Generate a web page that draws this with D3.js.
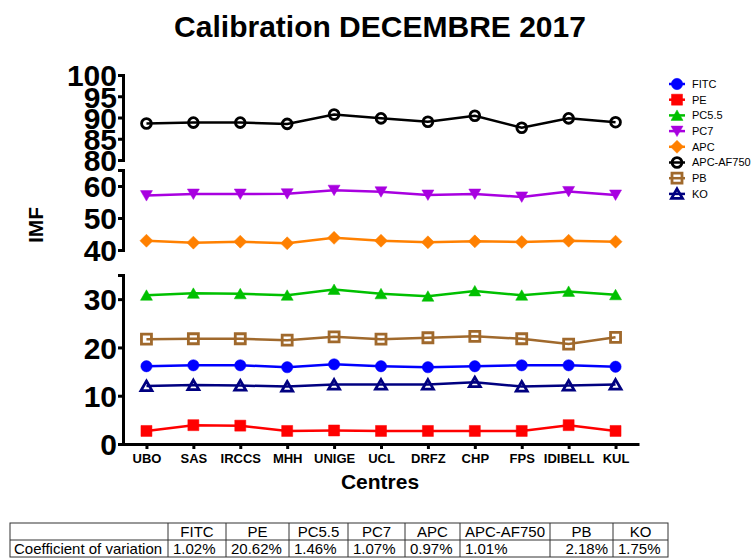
<!DOCTYPE html>
<html>
<head>
<meta charset="utf-8">
<script src="https://cdn.jsdelivr.net/npm/d3@7"></script>
<style>
  html, body { margin: 0; padding: 0; background: #fff; }
  svg { display: block; font-family: "Liberation Sans", Arial, sans-serif; }
</style>
</head>
<body>
<svg id="chart" width="755" height="558"></svg>
<script>
// Centres on the x axis
const centres = ["UBO", "SAS", "IRCCS", "MHH", "UNIGE", "UCL", "DRFZ", "CHP", "FPS", "IDIBELL", "KUL"];

// IMF per fluorochrome, one value per centre
const fitc     = [16.1, 16.3, 16.3, 15.9, 16.5, 16.1, 15.9, 16.1, 16.3, 16.3, 16.0];
const pe       = [2.7, 3.9, 3.8, 2.7, 2.8, 2.7, 2.7, 2.7, 2.7, 3.9, 2.7];
const pc55     = [30.8, 31.2, 31.1, 30.8, 32.0, 31.1, 30.6, 31.7, 30.8, 31.6, 30.9];
const pc7      = [57.0, 57.5, 57.5, 57.6, 58.7, 58.2, 57.2, 57.5, 56.6, 58.3, 57.2];
const apc      = [42.9, 42.3, 42.6, 42.1, 43.8, 42.9, 42.4, 42.7, 42.5, 42.9, 42.6];
const apcAf750 = [88.6, 88.8, 88.8, 88.5, 90.7, 89.8, 89.0, 90.4, 87.6, 89.8, 88.9];
const pb       = [21.7, 21.8, 21.8, 21.5, 22.2, 21.7, 22.0, 22.3, 21.8, 20.7, 22.1];
const ko       = [12.0, 12.2, 12.1, 11.9, 12.3, 12.3, 12.3, 12.8, 11.9, 12.1, 12.3];

// Broken y axis: three segments and their tick labels
const segLowDomain  = [0, 35];   const segLowTicks  = [0, 10, 20, 30];
const segMidDomain  = [40, 65];  const segMidTicks  = [40, 50, 60];
const segHighDomain = [80, 100]; const segHighTicks = [80, 85, 90, 95, 100];

// Coefficient of variation table
const cvHeaders = ["FITC", "PE", "PC5.5", "PC7", "APC", "APC-AF750", "PB", "KO"];
const cvValues  = ["1.02%", "20.62%", "1.46%", "1.07%", "0.97%", "1.01%", "2.18%", "1.75%"];
const cvRowLabel = "Coefficient of variation";

const series = [
  { name: "FITC",      values: fitc,     color: "#0000FF", shape: "circle",   open: false },
  { name: "PE",        values: pe,       color: "#FF0000", shape: "square",   open: false },
  { name: "PC5.5",     values: pc55,     color: "#00C000", shape: "triUp",    open: false },
  { name: "PC7",       values: pc7,      color: "#A800E0", shape: "triDown",  open: false },
  { name: "APC",       values: apc,      color: "#FF8000", shape: "diamond",  open: false },
  { name: "APC-AF750", values: apcAf750, color: "#000000", shape: "circle",   open: true  },
  { name: "PB",        values: pb,       color: "#A0692C", shape: "square",   open: true  },
  { name: "KO",        values: ko,       color: "#000080", shape: "triUp",    open: true  }
];

const svg = d3.select("#chart");
const axisX = 123, axisBottom = 444, axisRight = 639;

const segments = [
  { domain: segLowDomain,  ticks: segLowTicks,  range: [axisBottom, 275] },
  { domain: segMidDomain,  ticks: segMidTicks,  range: [250, 170] },
  { domain: segHighDomain, ticks: segHighTicks, range: [160, 75] }
].map(s => ({ ...s, scale: d3.scaleLinear().domain(s.domain).range(s.range) }));

function y(v) {
  const s = segments.find(s => v >= s.domain[0] && v <= s.domain[1]);
  return s.scale(v);
}

const x = d3.scalePoint().domain(centres).range([axisX, axisRight]).padding(0.5);

// Title
svg.append("text")
  .attr("x", 380).attr("y", 37)
  .attr("text-anchor", "middle")
  .attr("font-size", 30).attr("font-weight", "bold")
  .text("Calibration DECEMBRE 2017");

// Y axis segments
segments.forEach(s => {
  const g = svg.append("g").attr("transform", `translate(${axisX},0)`)
    .call(d3.axisLeft(s.scale).tickValues(s.ticks).tickSize(5).tickSizeOuter(5).tickPadding(1));
  g.select(".domain").attr("stroke", "#000").attr("stroke-width", 3).attr("fill", "none");
  g.selectAll(".tick line").attr("stroke", "#000").attr("stroke-width", 3);
  g.selectAll(".tick text")
    .attr("font-family", "Liberation Sans, Arial, sans-serif")
    .attr("font-size", 30).attr("font-weight", "bold").attr("fill", "#000")
    .attr("dy", "0.36em");
});

// X axis
const gx = svg.append("g").attr("transform", `translate(0,${axisBottom})`)
  .call(d3.axisBottom(x).tickSize(5).tickSizeOuter(0).tickPadding(5));
gx.select(".domain").attr("stroke", "#000").attr("stroke-width", 3);
gx.selectAll(".tick line").attr("stroke", "#000").attr("stroke-width", 3);
gx.selectAll(".tick text")
  .attr("font-family", "Liberation Sans, Arial, sans-serif")
  .attr("font-size", 13).attr("font-weight", "bold").attr("fill", "#000");

// Axis titles
svg.append("text")
  .attr("x", 380).attr("y", 489)
  .attr("text-anchor", "middle")
  .attr("font-size", 21).attr("font-weight", "bold")
  .text("Centres");
svg.append("text")
  .attr("transform", "translate(43,225) rotate(-90)")
  .attr("text-anchor", "middle")
  .attr("font-size", 21).attr("font-weight", "bold")
  .text("IMF");

// Marker shapes
function markerPath(shape) {
  switch (shape) {
    case "circle":  return d3.symbol(d3.symbolCircle, 100)();
    case "square":  return "M-5.5,-5.5H5.5V5.5H-5.5Z";
    case "triUp":   return "M0,-5.5L6,5L-6,5Z";
    case "triDown": return "M0,5.5L6,-5L-6,-5Z";
    case "diamond": return "M0,-6.5L6.5,0L0,6.5L-6.5,0Z";
  }
}
function openPath(shape) {
  switch (shape) {
    case "circle":  return d3.symbol(d3.symbolCircle, 75)();
    case "square":  return "M-5,-5H5V5H-5Z";
    case "triUp":   return "M0,-5L5.5,4.5L-5.5,4.5Z";
  }
}

function drawMarker(g, s) {
  g.append("path")
    .attr("d", s.open ? openPath(s.shape) : markerPath(s.shape))
    .attr("fill", s.open ? "none" : s.color)
    .attr("stroke", s.color)
    .attr("stroke-width", s.open ? 2.8 : 0.5)
    .attr("stroke-linejoin", "miter");
}

// Lines and markers
const line = d3.line().x((d, i) => x(centres[i])).y(d => y(d));
series.forEach(s => {
  const g = svg.append("g");
  g.append("path")
    .attr("d", line(s.values))
    .attr("fill", "none")
    .attr("stroke", s.color)
    .attr("stroke-width", 2.5);
  s.values.forEach((v, i) => {
    const m = g.append("g").attr("transform", `translate(${x(centres[i])},${y(v)})`);
    drawMarker(m, s);
  });
});

// Legend
const legend = svg.append("g");
series.forEach((s, i) => {
  const ly = 84 + i * 15.7;
  const g = legend.append("g").attr("transform", `translate(677,${ly})`);
  g.append("line").attr("x1", -8).attr("x2", 8).attr("y1", 0).attr("y2", 0)
    .attr("stroke", s.color).attr("stroke-width", 2.5);
  drawMarker(g, s);
  g.append("text").attr("x", 15).attr("y", 0).attr("dy", "0.35em")
    .attr("font-size", 11).attr("fill", "#000").text(s.name);
});

// Coefficient of variation table
const colEdges = [10, 168, 226, 289, 348, 405, 460, 550, 613, 668];
const rowEdges = [523, 540, 557];
const table = svg.append("g");
table.append("rect")
  .attr("x", colEdges[0]).attr("y", rowEdges[0])
  .attr("width", colEdges[colEdges.length - 1] - colEdges[0])
  .attr("height", rowEdges[2] - rowEdges[0])
  .attr("fill", "none").attr("stroke", "#333").attr("stroke-width", 1);
table.append("line")
  .attr("x1", colEdges[0]).attr("x2", colEdges[colEdges.length - 1])
  .attr("y1", rowEdges[1]).attr("y2", rowEdges[1])
  .attr("stroke", "#333").attr("stroke-width", 1);
colEdges.slice(1, -1).forEach(cx => {
  table.append("line").attr("x1", cx).attr("x2", cx)
    .attr("y1", rowEdges[0]).attr("y2", rowEdges[2])
    .attr("stroke", "#333").attr("stroke-width", 1);
});
table.append("text").attr("x", colEdges[0] + 4).attr("y", rowEdges[2] - 3)
  .attr("font-size", 15).text(cvRowLabel);
cvHeaders.forEach((h, i) => {
  const left = colEdges[i + 1], right = colEdges[i + 2];
  table.append("text").attr("x", (left + right) / 2).attr("y", rowEdges[1] - 3)
    .attr("text-anchor", "middle").attr("font-size", 15).text(h);
  // values sit at the left of their cell; the PB cell is right-aligned
  const rightAligned = h === "PB";
  table.append("text")
    .attr("x", rightAligned ? right - 5 : left + 5)
    .attr("y", rowEdges[2] - 3)
    .attr("text-anchor", rightAligned ? "end" : "start")
    .attr("font-size", 15).text(cvValues[i]);
});
</script>
</body>
</html>
